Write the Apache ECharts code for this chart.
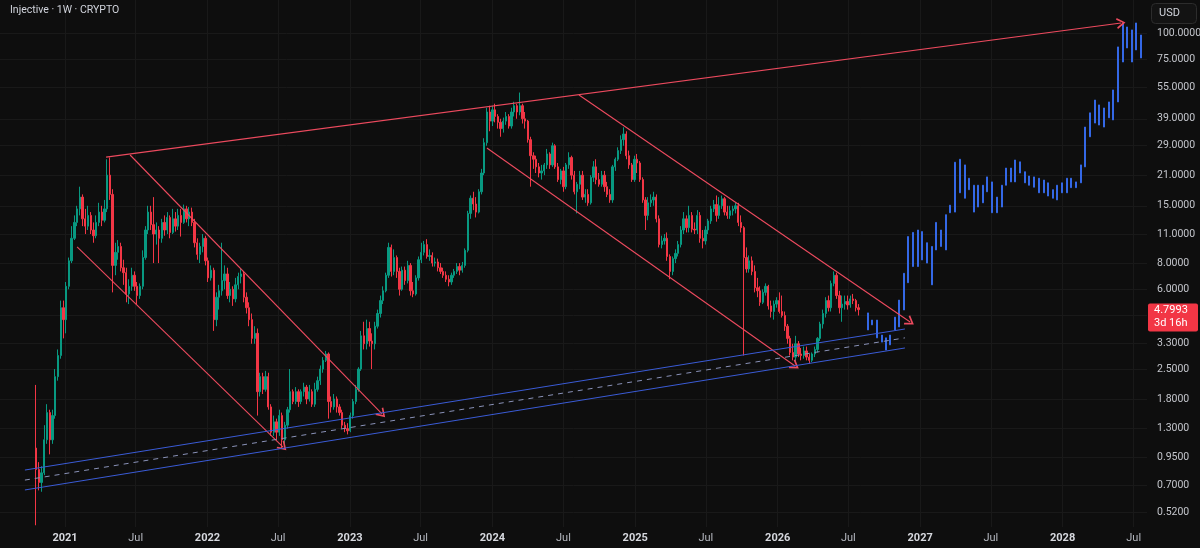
<!DOCTYPE html>
<html>
<head>
<meta charset="utf-8">
<script src="https://cdn.jsdelivr.net/npm/echarts@6/dist/echarts.min.js"></script>
<style>
  html, body { margin: 0; background: #0e0e0e; }
  #chart { width: 1200px; height: 548px; }
</style>
</head>
<body>
<div id="chart"></div>
<script>
// x is counted in weeks since Monday 13 Jul 2020
const WEEK0 = Date.UTC(2020, 6, 13);
const WEEK_MS = 7 * 864e5;

// weekly candles, week 14 .. 315 (open = previous close)
const firstWeek = 14;
const firstOpen = 1.05;
const closes = [
  0.83, 0.72, 0.80, 1.15, 1.55, 1.15, 1.5, 2.3, 2.9, 4.9,
  4.3, 6.2, 8.2, 10.5, 12.5, 14.5, 16.5, 13, 12, 13.5,
  11.5, 10.8, 12.5, 14, 12.8, 14.5, 21, 17, 7.8, 9.0,
  9.6, 7.6, 7.2, 5.7, 6.2, 7, 6.2, 5.6, 6.2, 8.5,
  11.5, 14, 12.2, 11, 11.5, 10.5, 12.5, 11.5, 13.2, 11.2,
  13, 12, 13.5, 12.5, 14.5, 13, 14, 12.5, 10, 8.8,
  9.6, 10.5, 8.2, 6.8, 7.4, 4.3, 5.5, 5.9, 6.6, 7.1,
  5.6, 6.0, 5.4, 6.3, 6.9, 7.1, 5.5, 4.9, 4.3, 3.5,
  3.7, 1.95, 2.3, 2.0, 2.3, 1.65, 1.25, 1.4, 1.25, 1.5,
  1.15, 1.35, 1.6, 1.95, 1.75, 1.95, 1.75, 1.95, 2.05, 1.8,
  1.95, 1.7, 2.0, 2.2, 2.5, 2.75, 2.95, 1.75, 1.65, 1.8,
  1.65, 1.55, 1.35, 1.3, 1.27, 1.5, 1.75, 2.0, 2.5, 3.6,
  3.3, 3.9, 3.4, 3.3, 4.0, 4.6, 5.3, 5.9, 7.0, 9.5,
  7.3, 8.5, 7.3, 6.0, 7.4, 6.6, 7.8, 5.9, 5.7, 6.8,
  8.3, 9.0, 9.8, 8.6, 8.7, 8.0, 8.1, 7.6, 7.3, 7.0,
  6.7, 6.5, 7.0, 7.3, 7.7, 7.4, 7.8, 9.2, 13.8, 16.3,
  15.3, 14.0, 17.5, 21.5, 30, 42, 38, 43, 40, 37.5,
  35, 38, 40, 36, 42, 45, 42, 45, 39, 38,
  31, 26, 25, 23, 21.5, 22, 23.5, 26.5, 23.5, 29,
  23, 20, 22, 18.5, 23.5, 25.5, 21, 17.5, 19, 21,
  16.5, 17, 15.5, 20.5, 23, 20, 19, 21, 18.5, 17,
  16, 23, 25, 27.5, 31, 33, 26, 23.5, 20, 25,
  24, 20, 16, 13.5, 15.5, 16, 16.5, 13, 9.8, 10.2,
  10.5, 8.6, 7.3, 8.4, 8.9, 9.8, 11.5, 13, 11.8, 13.5,
  11.6, 11.5, 13.5, 10.5, 10.2, 11.5, 12.7, 14.5, 15.2, 13.5,
  15, 16.2, 14, 13.5, 14.2, 14.5, 15, 12.5, 11.8, 8.5,
  7.5, 8.2, 7.3, 6.1, 5.9, 5.2, 5.8, 6.2, 5.0, 4.7,
  5.1, 5.3, 4.7, 4.5, 4.0, 3.5, 3.0, 2.85, 3.3, 2.95,
  2.9, 3.05, 2.85, 2.75, 2.95, 3.1, 3.5, 4.1, 4.6, 5.3,
  4.9, 6.4, 7.0, 5.6, 4.9, 5.1, 5.25, 5.05, 5.4, 5.3,
  4.9, 4.7993
];
const highs = [
  2.1, 0.9, 0.86, 1.35, 1.7, 1.6, 1.6, 2.5, 3.1, 5.3,
  5.3, 6.5, 8.5, 12, 13.5, 15, 18.5, 17, 14.5, 15,
  14, 12.5, 13.5, 15.5, 15, 16, 25, 25.5, 18, 10,
  10.3, 10, 8.3, 7.6, 6.7, 7.6, 7.3, 6.5, 6.4, 9.2,
  12, 15, 15, 16.5, 12.5, 12, 13, 13.5, 14, 13.5,
  14.5, 14, 14.5, 14.5, 15.2, 15, 14.8, 14.7, 13, 10.5,
  10, 11, 10.8, 8.5, 7.8, 7.6, 5.8, 6.3, 10, 7.8,
  7.6, 6.5, 6.2, 6.8, 7.2, 7.5, 7.3, 5.8, 5.2, 4.6,
  4.0, 3.9, 2.4, 2.4, 2.45, 2.4, 1.7, 1.5, 1.45, 1.6,
  1.55, 1.4, 1.65, 2.5, 2.0, 2.05, 2.0, 2.0, 2.15, 2.1,
  2.1, 2.0, 2.15, 2.3, 2.6, 2.85, 3.05, 3.0, 1.85, 1.9,
  1.85, 1.7, 1.6, 1.4, 1.38, 1.55, 1.8, 2.1, 2.55, 3.8,
  4.2, 4.3, 4.2, 3.7, 4.2, 4.8, 5.6, 6.2, 7.2, 10,
  9.8, 9.3, 8.7, 7.6, 7.7, 7.7, 8.2, 8.0, 6.5, 7.0,
  8.6, 10, 10.2, 10.4, 9.3, 9.0, 8.5, 8.4, 8.0, 7.6,
  7.3, 7.0, 7.2, 7.5, 8.0, 8.0, 8.1, 9.4, 14.2, 16.8,
  17.5, 16.5, 18, 22.5, 31.5, 44, 45, 45, 46, 41,
  39, 39.5, 42, 41, 44, 47, 46, 52, 46, 42,
  38.5, 32, 27, 26, 24, 23.5, 24, 28, 27, 30,
  29.5, 24, 22.5, 23, 24, 27, 26, 22, 19.5, 22,
  22, 18, 18, 21, 24.5, 25, 21.5, 22, 22, 19.5,
  18, 23.5, 25.5, 28.5, 32.5, 35.5, 34, 27.5, 24, 26,
  26.5, 24.5, 20.5, 16.5, 16.5, 17, 17.5, 17, 13.5, 10.8,
  11, 11.2, 8.8, 8.6, 9.3, 10.2, 12, 14, 13.5, 15,
  14, 12.5, 14.3, 14, 11.5, 12, 13, 15, 16, 16.8,
  16.5, 16.8, 16.5, 15, 15, 15, 15.5, 15.5, 13.5, 12,
  9.5, 8.7, 8.6, 7.8, 6.8, 6.2, 6.0, 6.4, 6.3, 5.3,
  5.3, 5.5, 5.8, 5.6, 4.7, 4.1, 3.6, 3.3, 3.6, 3.4,
  3.15, 3.2, 3.2, 2.95, 3.0, 3.2, 3.55, 4.2, 4.8, 5.5,
  5.6, 6.6, 7.3, 7.2, 5.9, 5.6, 5.6, 5.6, 5.6, 5.7,
  5.4, 5.1
];
const lows = [
  0.45, 0.66, 0.65, 0.78, 1.1, 0.98, 1.1, 1.45, 2.2, 2.8,
  3.5, 3.7, 6.0, 8, 10.3, 12, 13.5, 12, 11, 11.5,
  11, 10, 10.5, 12, 12, 12.5, 14, 16, 5.8, 7,
  8.3, 7.3, 6.3, 5.2, 5.1, 5.9, 5.9, 5.1, 5.4, 6,
  8.3, 11, 11.5, 8, 9.8, 8.0, 10, 10.8, 11, 10.5,
  11, 11.3, 11.5, 10.7, 12.3, 12.5, 12, 12, 9.5, 8.3,
  8, 9, 7.8, 6.5, 6.6, 3.8, 4.0, 4.8, 5.6, 6.0,
  5.4, 5.2, 5.0, 5.2, 6.0, 6.4, 5.2, 4.6, 4.0, 3.3,
  3.3, 1.5, 1.85, 1.9, 1.95, 1.6, 1.2, 1.2, 1.15, 1.2,
  1.05, 1.1, 1.3, 1.55, 1.7, 1.7, 1.65, 1.7, 1.85, 1.7,
  1.75, 1.65, 1.65, 1.95, 2.1, 2.4, 2.7, 1.45, 1.55, 1.6,
  1.55, 1.5, 1.3, 1.25, 1.22, 1.25, 1.45, 1.7, 1.95, 2.45,
  3.1, 3.1, 3.2, 2.5, 3.1, 3.9, 4.4, 5.1, 5.8, 6.8,
  6.9, 7.0, 6.8, 5.6, 5.9, 6.3, 6.4, 5.6, 5.5, 5.6,
  6.6, 8.0, 8.7, 8.4, 8.2, 7.7, 7.7, 7.3, 7.1, 6.8,
  6.5, 6.2, 6.3, 6.8, 7.1, 7.0, 7.2, 7.6, 9.0, 13.0,
  14.3, 13.2, 13.8, 17, 21, 29, 34, 36, 37.5, 35,
  32, 33.5, 36.5, 35, 35, 40, 39, 40.5, 37, 35,
  30, 18.5, 22.5, 21.5, 20.5, 20, 21, 22.5, 22.5, 23,
  22.5, 19.5, 19, 17.5, 18, 22.5, 20, 17, 13.8, 18,
  16, 15.5, 15, 15.2, 19.5, 19, 18.5, 18.5, 17.5, 16.5,
  15.5, 15.5, 22, 24.5, 26.5, 29, 25, 22.5, 19.5, 19.5,
  21.5, 19.5, 15.5, 11.5, 12.8, 14.8, 15, 12.5, 9.5, 9.4,
  9.8, 8.2, 6.7, 7.0, 8.0, 8.6, 9.5, 11, 11.2, 11.2,
  11.2, 11, 11, 10, 9.4, 9.8, 11, 12.3, 14, 12.6,
  13, 14.5, 13.5, 13, 13, 13.5, 13.8, 12, 11.2, 2.9,
  7.2, 7.2, 7, 5.8, 5.5, 5.0, 5.1, 5.6, 4.8, 4.4,
  4.3, 4.9, 4.6, 4.4, 3.8, 3.3, 2.9, 2.75, 2.7, 2.85,
  2.75, 2.8, 2.75, 2.65, 2.7, 2.85, 3.0, 3.4, 3.9, 4.4,
  4.7, 4.7, 6.2, 5.4, 4.6, 4.2, 4.8, 4.8, 4.9, 5.1,
  4.7, 4.5
];
const lastPrice = 4.7993;
const lastLabel = '3d 16h';

// projected (blue) bars
const projWeeks = [
  318.5, 320.0, 321.8, 323.6, 325.1, 326.5, 328.4, 329.8, 331.7, 333.1,
  335.0, 336.8, 338.3, 340.1, 341.9, 343.4, 345.2, 347.0, 348.5, 350.3,
  352.2, 354.0, 355.4, 357.3, 358.7, 360.6, 362.0, 363.9, 365.7, 367.5,
  369.0, 370.8, 372.3, 374.1, 376.0, 377.4, 379.2, 381.1, 382.9, 384.4,
  386.2, 387.7, 389.5, 391.3, 392.8, 394.6, 396.4, 397.9, 399.7, 401.6,
  403.0, 404.9, 406.7, 408.2, 410.0, 411.8, 413.3, 415.1, 416.6, 418.4
];
const projHigh = [
  4.63, 4.28, 4.28, 3.63, 3.52, 3.63, 4.42, 5.33, 7.15, 10.7,
  11.2, 11.5, 11.3, 10.0, 9.6, 12.5, 11.5, 13.6, 15.1, 24.2,
  25.0, 23.5, 20.3, 18.8, 18.8, 18.8, 20.6, 19.5, 16.5, 18.8,
  22.7, 22.7, 24.8, 24.3, 21.8, 20.8, 20.6, 20.3, 19.9, 19.3,
  17.9, 18.8, 19.3, 20.3, 20.3, 19.5, 23.5, 35.6, 41.6, 47.9,
  45.4, 43.9, 46.9, 53.5, 85.8, 111.6, 106.8, 103.4, 111.6, 97.8
];
const projLow = [
  3.84, 4.06, 3.52, 3.36, 3.08, 3.26, 3.84, 3.97, 4.78, 6.45,
  7.7, 7.7, 8.28, 8.0, 6.3, 9.24, 9.6, 9.24, 13.9, 14.0,
  17.3, 16.3, 17.9, 14.0, 14.8, 15.5, 17.5, 13.9, 13.9, 14.8,
  18.8, 19.5, 19.5, 21.5, 19.3, 18.8, 18.4, 17.3, 17.3, 16.7,
  16.3, 16.0, 17.3, 17.3, 18.3, 18.3, 19.3, 23.0, 32.0, 37.2,
  36.4, 35.6, 39.4, 38.5, 46.9, 72.7, 84.8, 72.7, 83.0, 76.0
];

// drawings: [week1, price1, week2, price2]
const redLines = [
  [39.6, 25.6, 411.1, 111.6],
  [48.4, 26.2, 140.6, 1.527],
  [29.0, 9.55, 104.4, 1.062],
  [212.7, 50.6, 333.9, 4.19],
  [179.0, 28.3, 291.8, 2.586]
];
const channelLines = [
  [9.9, 0.825, 332.0, 3.88],
  [9.9, 0.663, 332.0, 3.15]
];
const channelMid = [9.9, 0.739, 332.0, 3.52];

const priceTicks = [0.52, 0.7, 0.95, 1.3, 1.8, 2.5, 3.3, 4.5, 6, 8, 11, 15, 21, 29, 39, 55, 75, 100];
const yearsShown = [2021, 2022, 2023, 2024, 2025, 2026, 2027, 2028];

const lg = v => Math.log10(v);
const weekOf = ms => (ms - WEEK0) / WEEK_MS;

const candles = closes.map((c, i) => {
  const o = i === 0 ? firstOpen : closes[i - 1];
  return [firstWeek + i, lg(o), lg(c), lg(lows[i]), lg(highs[i])];
});
const projBars = projWeeks.map((w, i) => [w, lg(projLow[i]), lg(projHigh[i]), lg(projLow[i]), lg(projHigh[i])]);

const timeTicks = [];
yearsShown.forEach(y => {
  timeTicks.push(weekOf(Date.UTC(y, 0, 1)));
  timeTicks.push(weekOf(Date.UTC(y, 6, 1)));
});

const ARROW = 'path://M5,0L10,9L8.6,9.8L5,3.2L1.4,9.8L0,9Z';
const RED = '#ec4a5e';
const BLUE_LINE = '#3a5bd6';
const FONT = 'Roboto, "Noto Sans", sans-serif';

function seg(d, style, arrow) {
  return [
    { coord: [d[0], lg(d[1])], symbol: 'none', lineStyle: style },
    { coord: [d[2], lg(d[3])], symbol: arrow ? ARROW : 'none', symbolSize: [11, 9] }
  ];
}
const drawings = []
  .concat(redLines.map(d => seg(d, { color: RED, width: 1.1, type: 'solid' }, true)))
  .concat(channelLines.map(d => seg(d, { color: BLUE_LINE, width: 1, type: 'solid' }, false)))
  .concat([seg(channelMid, { color: '#8a92b8', width: 1, type: [5, 5] }, false)]);

const chart = echarts.init(document.getElementById('chart'));
const option = {
  backgroundColor: '#0e0e0e',
  animation: false,
  grid: { left: 0, right: 53, top: 0, bottom: 21, containLabel: false, outerBoundsMode: 'none' },
  xAxis: {
    type: 'value',
    min: 0.78,
    max: 420.6,
    axisLine: { show: false },
    axisTick: { show: false, customValues: timeTicks },
    splitLine: { show: true, lineStyle: { color: '#191919', width: 1 } },
    axisLabel: {
      customValues: timeTicks,
      margin: 6,
      formatter: v => {
        const d = new Date(WEEK0 + v * WEEK_MS + 432e5);
        return d.getUTCMonth() === 0 ? '{y|' + d.getUTCFullYear() + '}' : '{m|Jul}';
      },
      rich: {
        y: { color: '#d6d8de', fontSize: 11, fontWeight: 'bold', fontFamily: FONT },
        m: { color: '#b4b7bf', fontSize: 11, fontFamily: FONT }
      }
    }
  },
  yAxis: {
    type: 'value',
    position: 'right',
    min: lg(0.4415),
    max: lg(143.6),
    axisLine: { show: false },
    axisTick: { show: false, customValues: priceTicks.map(lg) },
    splitLine: { show: true, lineStyle: { color: '#191919', width: 1 } },
    axisLabel: {
      customValues: priceTicks.map(lg),
      margin: 10,
      color: '#c4c6cc',
      fontSize: 10.5,
      fontFamily: FONT,
      formatter: v => Math.pow(10, v).toFixed(4)
    }
  },
  series: [
    {
      type: 'candlestick',
      data: candles,
      barWidth: 1.8,
      itemStyle: {
        color: '#089981', color0: '#f23645',
        borderColor: '#089981', borderColor0: '#f23645', borderWidth: 1
      },
      markLine: {
        silent: true,
        animation: false,
        symbol: ['none', 'none'],
        label: { show: false },
        emphasis: { disabled: true },
        data: drawings
      }
    },
    {
      type: 'candlestick',
      data: projBars,
      barWidth: 2.2,
      itemStyle: {
        color: '#3468e6', color0: '#3468e6',
        borderColor: '#3468e6', borderColor0: '#3468e6', borderWidth: 1
      }
    }
  ]
};
chart.setOption(option);

const py = chart.convertToPixel({ yAxisIndex: 0 }, lg(lastPrice));
chart.setOption({
  graphic: [
    {
      type: 'text', left: 10, top: 5, z: 100,
      style: { text: 'Injective · 1W · CRYPTO', fill: '#d1d4dc', font: '10.5px ' + FONT }
    },
    {
      type: 'rect', z: 100,
      shape: { x: 1151.5, y: 3.5, width: 45, height: 20, r: 4 },
      style: { fill: '#131313', stroke: '#2c2c2c', lineWidth: 1 }
    },
    {
      type: 'text', z: 101, x: 1159, y: 13.5,
      style: { text: 'USD', fill: '#d1d4dc', font: '11px ' + FONT, textVerticalAlign: 'middle' }
    },
    {
      type: 'rect', z: 100,
      shape: { x: 1148, y: py - 6, width: 50, height: 28, r: 2 },
      style: { fill: '#f23645' }
    },
    {
      type: 'text', z: 101, x: 1154, y: py + 1,
      style: { text: lastPrice.toFixed(4), fill: '#ffffff', font: '11px ' + FONT, textVerticalAlign: 'middle' }
    },
    {
      type: 'text', z: 101, x: 1154, y: py + 14,
      style: { text: lastLabel, fill: '#ffffff', font: '11px ' + FONT, textVerticalAlign: 'middle' }
    }
  ]
});
</script>
</body>
</html>
